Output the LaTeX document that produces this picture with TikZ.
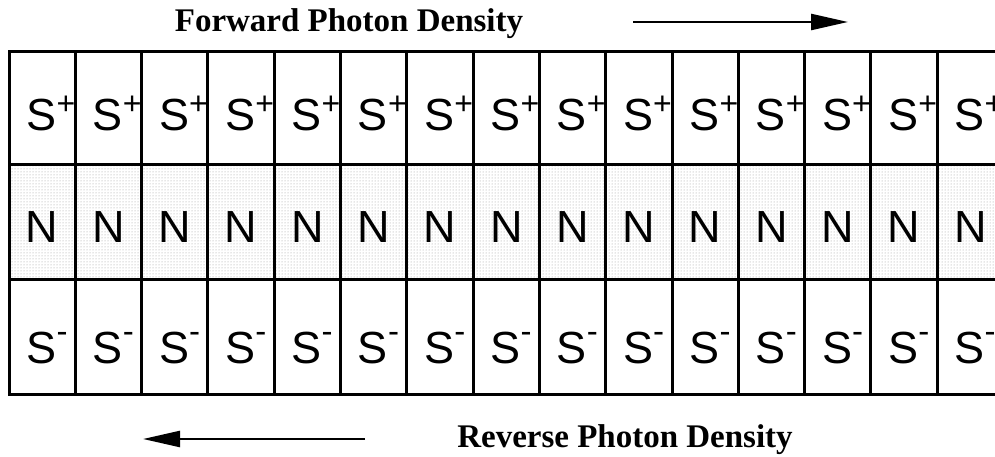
\documentclass[tikz,border=0pt]{standalone}
\usepackage{fontspec}
\setmainfont{Liberation Serif}
\newfontfamily\cellfont{Liberation Sans}
\usetikzlibrary{patterns,arrows.meta}
\tikzset{
  gridline/.style={line width=3pt, line cap=rect},
  cellmark/.style={anchor=base, inner sep=0pt, font=\cellfont\fontsize{45}{45}\selectfont},
  titletext/.style={anchor=base, inner sep=0pt, font=\bfseries\fontsize{33}{33}\selectfont},
  flow/.style={line width=2.4pt, -{Triangle[length=37pt,width=16pt]}}
}
\newcommand{\supplus}{\rlap{\raisebox{16pt}{\fontsize{32}{32}\selectfont +}}}
\newcommand{\supminus}{\rlap{\raisebox{21pt}{\fontsize{33}{33}\selectfont -}}}
\begin{document}
\begin{tikzpicture}[x=1pt,y=-1pt]
\useasboundingbox (0,0) rectangle (995,457);
% shaded middle row
\fill[white] (9,165) rectangle (1010,279);
\fill[pattern=dots, pattern color=black!40] (9,165) rectangle (1010,279);
% horizontal lines
\foreach \yy in {52,165,279,394} {
  \draw[gridline] (9,\yy) -- (1010,\yy);
}
% vertical lines
\foreach \k in {0,...,14} {
  \draw[gridline] ({9+\k*66.3},52) -- ({9+\k*66.3},394);
}
% cell labels
\foreach \k in {0,...,14} {
  \node[cellmark] (sp\k) at ({41.5+\k*66.3},131) {S\supplus};
  \node[cellmark] (n\k)  at ({42.2+\k*66.3},242) {N};
  \node[cellmark] (sm\k) at ({41.5+\k*66.3},363) {S\supminus};
}
% titles
\node[titletext] (fwd) at (349,32) {Forward Photon Density};
\node[titletext] (rev) at (625,447) {Reverse Photon Density};
% arrows
\coordinate (fa) at (633,22);
\coordinate (fb) at (848,22);
\coordinate (ra) at (365,439);
\coordinate (rb) at (143,439);
\draw[flow] (fa) -- (fb);
\draw[flow] (ra) -- (rb);
\end{tikzpicture}
\end{document}
